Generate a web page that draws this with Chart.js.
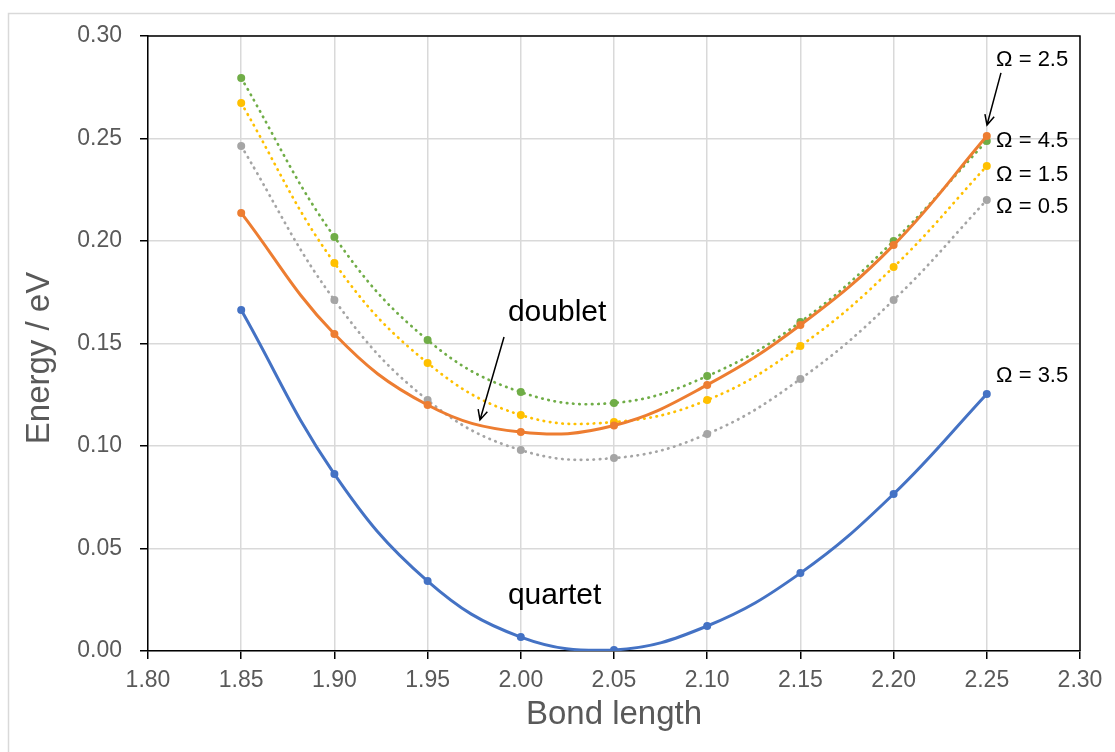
<!DOCTYPE html>
<html>
<head>
<meta charset="utf-8">
<script src="https://cdn.jsdelivr.net/npm/chart.js@4/dist/chart.umd.min.js"></script>
<style>
    body { margin: 0; background: #fff; }
    #wrap { width: 1115px; height: 752px; }
</style>
</head>
<body>
<div id="wrap"><canvas id="energyChart" width="1115" height="752"></canvas></div>
<script>
// bond lengths and energies (eV) for each Omega state
var bondLengths = [1.85, 1.90, 1.95, 2.00, 2.05, 2.10, 2.15, 2.20, 2.25];
var omega45 = [0.2137, 0.1546, 0.1200, 0.1068, 0.1100, 0.1298, 0.1590, 0.1980, 0.2512];
var omega35 = [0.1663, 0.0863, 0.0341, 0.0068, 0.0005, 0.0122, 0.0380, 0.0766, 0.1254];
var omega25 = [0.2795, 0.2020, 0.1517, 0.1263, 0.1210, 0.1341, 0.1605, 0.2000, 0.2488];
var omega15 = [0.2673, 0.1893, 0.1405, 0.1151, 0.1117, 0.1224, 0.1488, 0.1873, 0.2366];
var omega05 = [0.2463, 0.1712, 0.1224, 0.0980, 0.0941, 0.1059, 0.1327, 0.1712, 0.2200];

var xTicks = [1.80, 2.30, 0.05];
var yTicks = [0.00, 0.30, 0.05];

// labels placed in data units: [text, x, y]
var stateLabels = [
    ['Ω = 2.5', 2.255, 0.2883],
    ['Ω = 4.5', 2.255, 0.2488],
    ['Ω = 1.5', 2.255, 0.2322],
    ['Ω = 0.5', 2.255, 0.2166],
    ['Ω = 3.5', 2.255, 0.1341]
];
var spinLabels = [
    ['doublet', 1.9931, 0.1649],
    ['quartet', 1.9931, 0.0268]
];
// arrows: [fromX, fromY, toX, toY]
var arrows = [
    [2.2576, 0.2820, 2.2501, 0.2566],
    [1.9910, 0.1532, 1.9781, 0.1127]
];

function toPoints(ys) {
    return bondLengths.map(function(x, i){ return {x: x, y: ys[i]}; });
}

function series(label, ys, color, dotted) {
    return {
        label: label,
        data: toPoints(ys),
        borderColor: color,
        backgroundColor: color,
        borderWidth: dotted ? 2.7 : 3,
        borderDash: dotted ? [0.5, 5.8] : [],
        borderCapStyle: 'round',
        pointRadius: 4,
        pointBorderWidth: 0,
        pointBackgroundColor: color,
        tension: 0.4,
        fill: false
    };
}

var fontFamily = '"Liberation Sans", Arial, sans-serif';

var frame = {
    id: 'frame',
    afterDraw: function(chart) {
        var ctx = chart.ctx, a = chart.chartArea;
        var xs = chart.scales.x, ys = chart.scales.y;
        ctx.save();
        // outer chart border
        ctx.strokeStyle = '#D9D9D9';
        ctx.lineWidth = 1.5;
        ctx.strokeRect(8.5, 13.5, 1200, 800);
        // top and right edges of the plot box
        ctx.strokeStyle = '#000';
        ctx.lineWidth = 1.5;
        ctx.beginPath();
        ctx.moveTo(a.left, a.top);
        ctx.lineTo(a.right, a.top);
        ctx.lineTo(a.right, a.bottom);
        ctx.stroke();

        // y axis title
        ctx.save();
        ctx.translate(40, 358);
        ctx.rotate(-Math.PI / 2);
        ctx.fillStyle = '#595959';
        ctx.font = '33px ' + fontFamily;
        ctx.textAlign = 'center';
        ctx.textBaseline = 'middle';
        ctx.fillText('Energy / eV', 0, 0);
        ctx.restore();

        ctx.fillStyle = '#000';
        ctx.textBaseline = 'middle';
        ctx.textAlign = 'left';
        ctx.font = '22px ' + fontFamily;
        stateLabels.forEach(function(l){
            ctx.fillText(l[0], xs.getPixelForValue(l[1]), ys.getPixelForValue(l[2]));
        });
        ctx.font = '30px ' + fontFamily;
        spinLabels.forEach(function(l){
            ctx.fillText(l[0], xs.getPixelForValue(l[1]), ys.getPixelForValue(l[2]));
        });

        // open arrow heads
        ctx.lineWidth = 1.5;
        ctx.strokeStyle = '#000';
        arrows.forEach(function(ar){
            var x1 = xs.getPixelForValue(ar[0]), y1 = ys.getPixelForValue(ar[1]);
            var x2 = xs.getPixelForValue(ar[2]), y2 = ys.getPixelForValue(ar[3]);
            var ang = Math.atan2(y2 - y1, x2 - x1), h = 11;
            ctx.beginPath();
            ctx.moveTo(x1, y1);
            ctx.lineTo(x2, y2);
            ctx.moveTo(x2 - h * Math.cos(ang - 0.45), y2 - h * Math.sin(ang - 0.45));
            ctx.lineTo(x2, y2);
            ctx.lineTo(x2 - h * Math.cos(ang + 0.45), y2 - h * Math.sin(ang + 0.45));
            ctx.stroke();
        });
        ctx.restore();
    }
};

var tickFont = {family: fontFamily, size: 23};
var titleFont = {family: fontFamily, size: 33};

var ctx = document.getElementById('energyChart').getContext('2d');
var chart = new Chart(ctx, {
    type: 'line',
    data: {
        datasets: [
            series('Ω = 4.5', omega45, '#ED7D31', false),
            series('Ω = 3.5', omega35, '#4472C4', false),
            series('Ω = 2.5', omega25, '#70AD47', true),
            series('Ω = 1.5', omega15, '#FFC000', true),
            series('Ω = 0.5', omega05, '#A5A5A5', true)
        ]
    },
    options: {
        responsive: false,
        animation: false,
        layout: { padding: { left: 0, top: 36, right: 35, bottom: 0 } },
        plugins: { legend: { display: false }, tooltip: { enabled: false } },
        scales: {
            x: {
                type: 'linear',
                min: xTicks[0],
                max: xTicks[1],
                afterFit: function(s){ s.height = 101; },
                ticks: {
                    stepSize: xTicks[2],
                    color: '#595959',
                    font: tickFont,
                    padding: 8,
                    maxRotation: 0,
                    callback: function(v){ return v.toFixed(2); }
                },
                grid: { color: '#D9D9D9', lineWidth: 1.5, tickColor: '#000', tickLength: 8, tickWidth: 1.5 },
                border: { display: true, color: '#000', width: 1.5 },
                title: { display: true, text: 'Bond length', color: '#595959', font: titleFont, padding: { bottom: 17 } }
            },
            y: {
                min: yTicks[0],
                max: yTicks[1],
                afterFit: function(s){ s.width = 148; },
                ticks: {
                    stepSize: yTicks[2],
                    color: '#595959',
                    font: tickFont,
                    padding: 18,
                    callback: function(v){ return v.toFixed(2); }
                },
                grid: { color: '#D9D9D9', lineWidth: 1.5, tickColor: '#000', tickLength: 8, tickWidth: 1.5 },
                border: { display: true, color: '#000', width: 1.5 }
            }
        }
    },
    plugins: [frame]
});
</script>
</body>
</html>
